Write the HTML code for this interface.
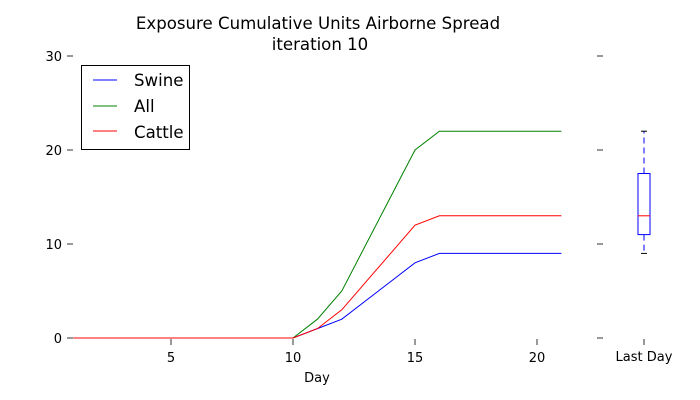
<!DOCTYPE html>
<html><head><meta charset="utf-8"><style>
body{margin:0;background:#fff;}
svg{display:block;font-family:"DejaVu Sans","Liberation Sans",sans-serif;}
</style></head><body>
<svg id="chart" width="700" height="400" viewBox="0 0 700 400">
<text x="318" y="29" font-size="16.6" text-anchor="middle">Exposure Cumulative Units Airborne Spread</text>
<text x="320" y="50" font-size="16.6" text-anchor="middle">iteration 10</text>
<g id="axes"></g>
<g id="series"></g>
<g id="box"></g>
<g>
<rect x="81.5" y="65.5" width="108" height="84" fill="#fff" stroke="#000" stroke-width="1"/>
<line x1="93" y1="80" x2="117" y2="80" stroke="#0000ff"/><text x="134" y="86" font-size="16.6">Swine</text>
<line x1="93" y1="106" x2="117" y2="106" stroke="#008000"/><text x="134" y="112" font-size="16.6">All</text>
<line x1="93" y1="131" x2="117" y2="131" stroke="#ff0000"/><text x="134" y="138" font-size="16.6">Cattle</text>
</g>
<text x="317" y="382" font-size="13" text-anchor="middle">Day</text>
</svg>
<script>
const days=[1,2,3,4,5,6,7,8,9,10,11,12,13,14,15,16,17,18,19,20,21];
const swine=[0,0,0,0,0,0,0,0,0,0,1,2,4,6,8,9,9,9,9,9,9];
const all=[0,0,0,0,0,0,0,0,0,0,2,5,10,15,20,22,22,22,22,22,22];
const cattle=[0,0,0,0,0,0,0,0,0,0,1,3,6,9,12,13,13,13,13,13,13];
const xTicks=[5,10,15,20];
const yTicks=[0,10,20,30];
const boxStats=[9,11,13,17.5,22]; // min,q1,median,q3,max
const NS="http://www.w3.org/2000/svg";
const X=d=>293+(d-10)*24.4;
const Y=v=>338-v*9.4;
function mk(t,a,p){const e=document.createElementNS(NS,t);for(const k in a)e.setAttribute(k,a[k]);p.appendChild(e);return e;}
const ax=document.getElementById('axes');
yTicks.forEach(v=>{
 const t=mk('line',{x1:67,x2:73,y1:Y(v),y2:Y(v),stroke:'#777','stroke-width':1.5},ax);
 
 
 const t2=mk('line',{x1:597,x2:603,y1:Y(v),y2:Y(v),stroke:'#777','stroke-width':1.5},ax);
 
 
 const l=mk('text',{x:62,y:Y(v)+5,'font-size':13,'text-anchor':'end'},ax);l.textContent=v;
 
 
});
xTicks.forEach(v=>{
 const t=mk('line',{x1:X(v),x2:X(v),y1:339,y2:345,stroke:'#777','stroke-width':1.5},ax);
 
 
 const l=mk('text',{x:X(v),y:362,'font-size':13,'text-anchor':'middle'},ax);l.textContent=v;
 
 
});
const lt=mk('line',{x1:644,x2:644,y1:339,y2:345,stroke:'#777','stroke-width':1.5},ax);


const ll=mk('text',{x:644,y:361,'font-size':13,'text-anchor':'middle'},ax);ll.textContent='Last Day';


const sg=document.getElementById('series');
[[swine,'#0000ff','swine-line'],[all,'#008000','all-line'],[cattle,'#ff0000','cattle-line']].forEach(([arr,c,n])=>{
 const p=mk('polyline',{points:days.map((d,i)=>X(d)+','+Y(arr[i])).join(' '),fill:'none',stroke:c,'stroke-width':1},sg);
 
 
});
const bg=document.getElementById('box');
const [mn,q1,md,q3,mx]=boxStats;const cx=644;
const w1=mk('line',{x1:cx,x2:cx,y1:Y(q3),y2:Y(mx),stroke:'#0000ff','stroke-dasharray':'6,4'},bg);

const w2=mk('line',{x1:cx,x2:cx,y1:Y(q1),y2:Y(mn),stroke:'#0000ff','stroke-dasharray':'6,4'},bg);

const c1=mk('line',{x1:cx-3,x2:cx+3,y1:Y(mx),y2:Y(mx),stroke:'#000'},bg);

const c2=mk('line',{x1:cx-3,x2:cx+3,y1:Y(mn),y2:Y(mn),stroke:'#000'},bg);

const r=mk('rect',{x:cx-6,y:Y(q3),width:12,height:Y(q1)-Y(q3),fill:'none',stroke:'#0000ff'},bg);

const m=mk('line',{x1:cx-6,x2:cx+6,y1:Y(md),y2:Y(md),stroke:'#ff0000'},bg);

</script>
</body></html>
